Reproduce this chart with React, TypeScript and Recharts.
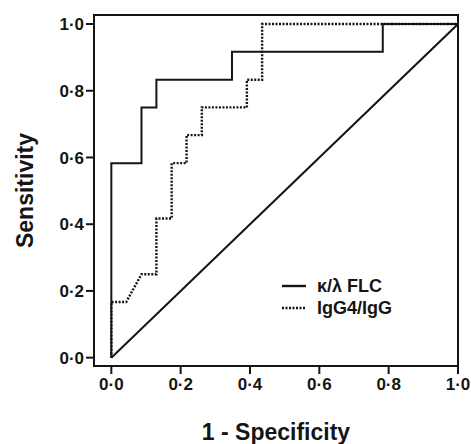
import { Label, Line, LineChart, XAxis, YAxis } from 'recharts';

// ROC staircase points (1 - specificity, sensitivity)
const flcFpr = [0, 0, 0.087, 0.087, 0.13, 0.13, 0.348, 0.348, 0.783, 0.783, 1];
const flcTpr = [0, 0.583, 0.583, 0.75, 0.75, 0.833, 0.833, 0.917, 0.917, 1, 1];

const iggFpr = [0, 0, 0.043, 0.087, 0.13, 0.13, 0.174, 0.174, 0.217, 0.217, 0.261, 0.261, 0.391, 0.391, 0.435, 0.435, 1];
const iggTpr = [0, 0.167, 0.167, 0.25, 0.25, 0.417, 0.417, 0.583, 0.583, 0.667, 0.667, 0.75, 0.75, 0.833, 0.833, 1, 1];

const chanceFpr = [0, 1];
const chanceTpr = [0, 1];

const ticks = [0, 0.2, 0.4, 0.6, 0.8, 1];
const xDomain = [-0.05, 1];
const yDomain = [-0.025, 1.027];
const legendRows = [
  { name: 'κ/λ FLC', dash: undefined },
  { name: 'IgG4/IgG', dash: '2 1.5' },
];

const toPoints = (xs: number[], ys: number[]) => xs.map((x, i) => ({ x, y: ys[i] }));

const flcData = toPoints(flcFpr, flcTpr);
const iggData = toPoints(iggFpr, iggTpr);
const chanceData = toPoints(chanceFpr, chanceTpr);

const W = 471;
const H = 444;
const MARGIN = { top: 15, right: 13, bottom: 0, left: 0 };
const font = '"Liberation Sans", Arial, sans-serif';
const ink = '#151515';
const fmt = (v: number) => v.toFixed(1).replace('.', '·');
const frame = { stroke: ink, strokeWidth: 2 };

// plot frame + inset legend, drawn inside the svg from the y-axis viewBox
function FrameAndLegend({ viewBox }: any) {
  const left = viewBox.x + viewBox.width;
  const top = viewBox.y;
  const right = W - MARGIN.right;
  const bottom = viewBox.y + viewBox.height;
  return (
    <g>
      <rect x={left} y={top} width={right - left} height={bottom - top} fill="none" stroke={ink} strokeWidth={2} />
      {legendRows.map((r, i) => {
        const cy = 286 + i * 22;
        return (
          <g key={r.name}>
            <line x1={282} y1={cy} x2={306} y2={cy} stroke={ink} strokeWidth={2.4} strokeDasharray={r.dash} />
            <text x={317} y={cy} dominantBaseline="central" style={{ fill: ink, fontSize: 18, fontWeight: 700, fontFamily: font }}>
              {r.name}
            </text>
          </g>
        );
      })}
    </g>
  );
}

export default function App() {
  return (
    <div style={{ position: 'absolute', left: 0, top: 0, background: '#fff' }}>
      <LineChart width={W} height={H} margin={MARGIN}>
        <XAxis
          type="number"
          dataKey="x"
          domain={xDomain}
          ticks={ticks}
          allowDataOverflow
          height={78}
          tickSize={8}
          tickMargin={4}
          tickFormatter={fmt}
          axisLine={frame}
          tickLine={frame}
          tick={{ fill: ink, fontSize: 17, fontWeight: 700, fontFamily: font }}
        >
          <Label
            value="1 - Specificity"
            position="insideBottom"
            offset={4}
            style={{ fill: ink, fontSize: 23, fontWeight: 700, fontFamily: font }}
          />
        </XAxis>
        <YAxis
          type="number"
          domain={yDomain}
          ticks={ticks}
          allowDataOverflow
          width={94}
          tickSize={8}
          tickMargin={2}
          tickFormatter={fmt}
          axisLine={frame}
          tickLine={frame}
          tick={{ fill: ink, fontSize: 17, fontWeight: 700, fontFamily: font }}
        >
          <Label
            content={({ viewBox }: any) => (
              <g>
                <text
                  x={25}
                  y={viewBox.y + viewBox.height / 2}
                  transform={`rotate(-90, 25, ${viewBox.y + viewBox.height / 2})`}
                  textAnchor="middle"
                  dominantBaseline="central"
                  style={{ fill: ink, fontSize: 23, fontWeight: 700, fontFamily: font }}
                >
                  Sensitivity
                </text>
                <FrameAndLegend viewBox={viewBox} />
              </g>
            )}
          />
        </YAxis>
        <Line data={chanceData} dataKey="y" type="linear" stroke={ink} strokeWidth={2} dot={false} isAnimationActive={false} />
        <Line data={iggData} dataKey="y" name="IgG4/IgG" type="linear" stroke={ink} strokeWidth={2.4} strokeDasharray="2 1.5" dot={false} isAnimationActive={false} />
        <Line data={flcData} dataKey="y" name="κ/λ FLC" type="linear" stroke={ink} strokeWidth={2} dot={false} isAnimationActive={false} />
      </LineChart>
    </div>
  );
}
